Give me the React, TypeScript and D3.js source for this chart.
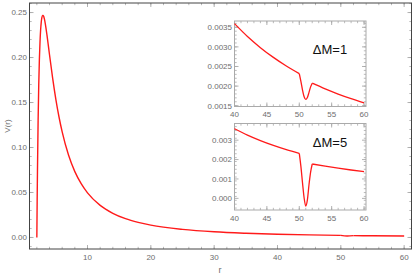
import React from "react";
import * as d3 from "d3";

// ---- data ----
const mainR = [2, 2.05, 2.1, 2.2, 2.3, 2.4, 2.5, 2.6, 2.7, 2.8, 2.9, 3.0, 3.1, 3.2, 3.4, 3.6, 3.8, 4, 4.5, 5, 5.5, 6, 7, 8, 9, 10, 12, 14, 16, 18, 20, 25, 30, 35, 40, 45, 50, 51, 52, 55, 60];
const mainV = [0, 0.0405, 0.0751, 0.1298, 0.1694, 0.1977, 0.2176, 0.2311, 0.2397, 0.2447, 0.2469, 0.2469, 0.2454, 0.2426, 0.2347, 0.2248, 0.2141, 0.2031, 0.1768, 0.1536, 0.1339, 0.1173, 0.0916, 0.0732, 0.0598, 0.0496, 0.0357, 0.0269, 0.0209, 0.0168, 0.0137, 0.009, 0.0063, 0.0047, 0.0036, 0.0029, 0.0023, 0.0017, 0.0021, 0.0019, 0.0016];

const insetR = [40, 42, 44, 46, 48, 50, 50.25, 50.5, 50.75, 51, 51.25, 51.5, 51.75, 52, 54, 56, 58, 60];
const dm1V = [0.003592, 0.003265, 0.002981, 0.002732, 0.002513, 0.002319, 0.00212, 0.0019, 0.00173, 0.00166, 0.00171, 0.00184, 0.00198, 0.002074, 0.001929, 0.001798, 0.00168, 0.001573];
const dm5V = [0.003592, 0.003265, 0.002981, 0.002732, 0.002513, 0.002319, 0.00165, 0.0008, 0.00002, -0.0004, -0.00008, 0.0007, 0.00135, 0.001772, 0.00166, 0.001557, 0.001463, 0.001378];
const kinks = [50, 52];

const mainXTicks = [10, 20, 30, 40, 50, 60];
const mainYTicks = [0, 0.05, 0.1, 0.15, 0.2, 0.25];
const insetXTicks = [40, 45, 50, 55, 60];
const inset1YTicks = [0.0015, 0.002, 0.0025, 0.003, 0.0035];
const inset2YTicks = [0, 0.001, 0.002, 0.003];
const insetLabels = ["ΔM=1", "ΔM=5"];

const FONT = "'Liberation Sans', Arial, sans-serif";
const RED = "#ff1a1a";

type Scale = d3.ScaleLinear<number, number>;

function range(a: number, b: number, step: number) {
  const out: number[] = [];
  const n = Math.round((b - a) / step);
  for (let i = 0; i <= n; i++) out.push(+(a + i * step).toFixed(8));
  return out;
}

function Curve({ rs, vs, x, y, width }: { rs: number[]; vs: number[]; x: Scale; y: Scale; width: number }) {
  const pts = rs.map((r, i) => [r, vs[i]] as [number, number]);
  // split at kinks so corners stay sharp
  const segs: [number, number][][] = [];
  let cur: [number, number][] = [];
  pts.forEach((p) => {
    cur.push(p);
    if (kinks.includes(p[0])) {
      segs.push(cur);
      cur = [p];
    }
  });
  if (cur.length > 1) segs.push(cur);
  const line = d3
    .line<[number, number]>()
    .x((d) => x(d[0]))
    .y((d) => y(d[1]))
    .curve(d3.curveMonotoneX);
  return (
    <g>
      {segs.map((s, i) => (
        <path key={i} d={line(s) || ""} fill="none" stroke={RED} strokeWidth={width} strokeLinejoin="round" />
      ))}
    </g>
  );
}

function Frame({
  x, y, xMajor, xMinor, yMajor, yMinor, fmtX, fmtY, frameColor, labelDy, bg,
}: {
  x: Scale; y: Scale; xMajor: number[]; xMinor: number[]; yMajor: number[]; yMinor: number[];
  fmtX: (v: number) => string; fmtY: (v: number) => string; frameColor: string; labelDy: number; bg?: boolean;
}) {
  const [x0, x1] = x.range();
  const [y0, y1] = y.range(); // y0 bottom, y1 top
  const tickCol = "#a8a8a8";
  const maj = 4, mnr = 2.2;
  const inX = (v: number) => v >= x.domain()[0] - 1e-9 && v <= x.domain()[1] + 1e-9;
  const inY = (v: number) => v >= y.domain()[0] - 1e-9 && v <= y.domain()[1] + 1e-9;
  return (
    <g>
      {bg && <rect x={x0} y={y1} width={x1 - x0} height={y0 - y1} fill="white" />}
      {xMinor.filter(inX).map((v) => (
        <g key={"xm" + v}>
          <line x1={x(v)} x2={x(v)} y1={y0} y2={y0 - mnr} stroke={tickCol} strokeWidth={0.8} />
          <line x1={x(v)} x2={x(v)} y1={y1} y2={y1 + mnr} stroke={tickCol} strokeWidth={0.8} />
        </g>
      ))}
      {xMajor.filter(inX).map((v) => (
        <g key={"xM" + v}>
          <line x1={x(v)} x2={x(v)} y1={y0} y2={y0 - maj} stroke={tickCol} strokeWidth={0.9} />
          <line x1={x(v)} x2={x(v)} y1={y1} y2={y1 + maj} stroke={tickCol} strokeWidth={0.9} />
          <text x={x(v)} y={y0 + labelDy} textAnchor="middle" fontSize={8} fill="#6e6e6e" fontFamily={FONT}>
            {fmtX(v)}
          </text>
        </g>
      ))}
      {yMinor.filter(inY).map((v) => (
        <g key={"ym" + v}>
          <line x1={x0} x2={x0 + mnr} y1={y(v)} y2={y(v)} stroke={tickCol} strokeWidth={0.8} />
          <line x1={x1} x2={x1 - mnr} y1={y(v)} y2={y(v)} stroke={tickCol} strokeWidth={0.8} />
        </g>
      ))}
      {yMajor.filter(inY).map((v) => (
        <g key={"yM" + v}>
          <line x1={x0} x2={x0 + maj} y1={y(v)} y2={y(v)} stroke={tickCol} strokeWidth={0.9} />
          <line x1={x1} x2={x1 - maj} y1={y(v)} y2={y(v)} stroke={tickCol} strokeWidth={0.9} />
          <text x={x0 - 2.5} y={y(v) + 2.9} textAnchor="end" fontSize={8} fill="#6e6e6e" fontFamily={FONT}>
            {fmtY(v)}
          </text>
        </g>
      ))}
      <rect x={x0} y={y1} width={x1 - x0} height={y0 - y1} fill="none" stroke={frameColor} strokeWidth={1} />
    </g>
  );
}

export default function App() {
  const W = 415, H = 277;
  // main plot
  const mx = d3.scaleLinear().domain([0.84, 61.16]).range([29.5, 411.5]);
  const my = d3.scaleLinear().domain([-0.0128, 0.2606]).range([249, 3]);
  // inset 1
  const i1x = d3.scaleLinear().domain([40, 60.3]).range([234.5, 366]);
  const i1y = d3.scaleLinear().domain([0.00148, 0.00366]).range([106.5, 21]);
  // inset 2
  const i2x = d3.scaleLinear().domain([40, 60.3]).range([234.5, 366]);
  const i2y = d3.scaleLinear().domain([-0.0006, 0.00386]).range([210, 123.5]);

  return (
    <svg width={W} height={H} style={{ position: "absolute", left: 0, top: 0, background: "white" }}>
      <Frame
        x={mx} y={my}
        xMajor={mainXTicks} xMinor={range(0, 62, 2)}
        yMajor={mainYTicks} yMinor={range(-0.01, 0.26, 0.01)}
        fmtX={(v) => String(v)} fmtY={d3.format(".2f")}
        frameColor="#444" labelDy={11}
      />
      <Curve rs={mainR} vs={mainV} x={mx} y={my} width={1.4} />
      <text x={(29 + 411) / 2} y={273} textAnchor="middle" fontSize={9} fill="#6e6e6e" fontFamily={FONT}>r</text>
      <text transform={`translate(10,126) rotate(-90)`} textAnchor="middle" fontSize={8} fill="#6e6e6e" fontFamily={FONT}>V(r)</text>

      <Frame
        x={i1x} y={i1y}
        xMajor={insetXTicks} xMinor={range(40, 60, 1)}
        yMajor={inset1YTicks} yMinor={range(0.0015, 0.0036, 0.0001)}
        fmtX={(v) => String(v)} fmtY={d3.format(".4f")}
        frameColor="#aaa" labelDy={10.5} bg
      />
      <Curve rs={insetR} vs={dm1V} x={i1x} y={i1y} width={1.3} />
      <text x={330} y={54} textAnchor="middle" fontSize={13} fill="#111" fontFamily={FONT}>{insetLabels[0]}</text>

      <Frame
        x={i2x} y={i2y}
        xMajor={insetXTicks} xMinor={range(40, 60, 1)}
        yMajor={inset2YTicks} yMinor={range(-0.0005, 0.0038, 0.0002)}
        fmtX={(v) => String(v)} fmtY={d3.format(".3f")}
        frameColor="#aaa" labelDy={11} bg
      />
      <Curve rs={insetR} vs={dm5V} x={i2x} y={i2y} width={1.3} />
      <text x={330} y={146.5} textAnchor="middle" fontSize={13} fill="#111" fontFamily={FONT}>{insetLabels[1]}</text>
    </svg>
  );
}
